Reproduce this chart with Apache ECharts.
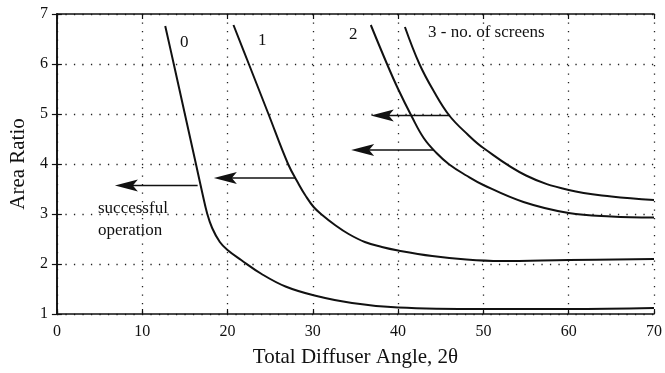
<!DOCTYPE html>
<html>
<head>
<meta charset="utf-8">
<script src="https://cdn.jsdelivr.net/npm/echarts@6/dist/echarts.min.js"></script>
<style>
  html, body { margin: 0; padding: 0; background: #fff; }
  #chart { width: 665px; height: 373px; }
</style>
</head>
<body>
<div id="chart"></div>
<script>
// Area ratio vs total diffuser angle, one curve per number of screens
const angle0 = [12.7, 13.7, 15.0, 16.3, 17.1, 17.6, 18.2, 19.1, 20.0, 21.6, 24.0, 26.8, 30.2, 34.6, 40, 50, 60, 70];
const ratio0 = [6.76, 6.0, 5.0, 4.0, 3.38, 3.02, 2.72, 2.44, 2.28, 2.08, 1.8, 1.55, 1.37, 1.22, 1.13, 1.1, 1.1, 1.12];

const angle1 = [20.7, 22.5, 24.8, 27.1, 28.4, 29.1, 30.1, 31.1, 32.6, 34.2, 36.1, 38.1, 40, 44, 48, 52, 60, 70];
const ratio1 = [6.78, 6.0, 5.0, 4.0, 3.58, 3.38, 3.14, 2.98, 2.78, 2.6, 2.44, 2.34, 2.27, 2.16, 2.09, 2.06, 2.08, 2.1];

const angle2 = [36.8, 38.7, 40.0, 41.6, 43.0, 44.5, 46.0, 48.0, 50.0, 54.7, 60, 65, 70];
const ratio2 = [6.78, 6.0, 5.5, 4.95, 4.52, 4.22, 3.99, 3.77, 3.58, 3.24, 3.02, 2.95, 2.93];

const angle3 = [40.8, 42.5, 44.2, 46.0, 48.1, 50, 55, 60, 65, 70];
const ratio3 = [6.74, 6.0, 5.45, 4.97, 4.6, 4.32, 3.77, 3.48, 3.35, 3.28];

// Arrows pointing toward the region of successful operation
const arrowRatio = [3.57, 3.72, 4.28, 4.97];
const arrowTail  = [16.5, 28.0, 44.2, 46.1];
const arrowTip   = [6.8, 18.4, 34.5, 36.8];

const xTicks = [0, 10, 20, 30, 40, 50, 60, 70];
const yTicks = [1, 2, 3, 4, 5, 6, 7];

const FONT = 'Liberation Serif';
const INK = '#111';

function pairs(xs, ys) { return xs.map((x, i) => [x, ys[i]]); }

function curve(xs, ys) {
  return {
    type: 'line',
    data: pairs(xs, ys),
    symbol: 'none',
    smooth: 0.4,
    lineStyle: { color: INK, width: 2 },
    silent: true,
    z: 5
  };
}

const dotted = { color: '#222', width: 1.3, type: [1.3, 7.2] };

const chart = echarts.init(document.getElementById('chart'), null, { renderer: 'canvas' });

chart.setOption({
  backgroundColor: '#fff',
  animation: false,
  grid: { left: 56, right: 10, top: 14, bottom: 55 },
  xAxis: [
    {
      type: 'value', min: xTicks[0], max: xTicks[xTicks.length - 1], interval: 10,
      position: 'bottom',
      axisLine: { show: true, lineStyle: { color: INK, width: 1.6 } },
      axisTick: { show: true, inside: true, length: 5, lineStyle: { color: INK, width: 1.2 } },
      axisLabel: { color: INK, fontFamily: FONT, fontSize: 16, margin: 10 },
      splitLine: { show: true, lineStyle: dotted },
      name: 'Total Diffuser Angle, 2\u03b8',
      nameLocation: 'middle',
      nameGap: 33,
      nameTextStyle: { color: INK, fontFamily: FONT, fontSize: 21 }
    },
    {
      type: 'value', min: xTicks[0], max: xTicks[xTicks.length - 1], interval: 10,
      position: 'top',
      axisLine: { show: true, lineStyle: { color: INK, width: 1.6 } },
      axisTick: { show: true, inside: true, length: 5, lineStyle: { color: INK, width: 1.2 } },
      axisLabel: { show: false },
      splitLine: { show: false }
    }
  ],
  yAxis: [
    {
      type: 'value', min: yTicks[0], max: yTicks[yTicks.length - 1], interval: 1,
      position: 'left',
      axisLine: { show: true, lineStyle: { color: INK, width: 1.6 } },
      axisTick: { show: true, inside: true, length: 5, lineStyle: { color: INK, width: 1.2 } },
      axisLabel: { color: INK, fontFamily: FONT, fontSize: 16, margin: 9 },
      splitLine: { show: true, lineStyle: dotted },
      name: 'Area Ratio',
      nameLocation: 'middle',
      nameGap: 25,
      nameTextStyle: { color: INK, fontFamily: FONT, fontSize: 21 }
    },
    {
      type: 'value', min: yTicks[0], max: yTicks[yTicks.length - 1], interval: 1,
      position: 'right',
      axisLine: { show: true, lineStyle: { color: INK, width: 1.6 } },
      axisTick: { show: true, inside: true, length: 5, lineStyle: { color: INK, width: 1.2 } },
      axisLabel: { show: false },
      splitLine: { show: false }
    }
  ],
  series: [
    curve(angle0, ratio0),
    curve(angle1, ratio1),
    curve(angle2, ratio2),
    curve(angle3, ratio3),
    {
      type: 'custom',
      silent: true,
      z: 6,
      data: arrowRatio.map((r, i) => [r, arrowTail[i], arrowTip[i]]),
      encode: { x: [1, 2], y: 0 },
      renderItem: function (params, api) {
        const tail = api.coord([api.value(1), api.value(0)]);
        const tip = api.coord([api.value(2), api.value(0)]);
        const L = 23, W = 6;
        const tx = tip[0], ty = tip[1];
        return {
          type: 'group',
          children: [
            {
              type: 'line',
              shape: { x1: tail[0], y1: tail[1], x2: tx + L * 0.7, y2: ty },
              style: { stroke: INK, lineWidth: 1.5 }
            },
            {
              type: 'polygon',
              shape: { points: [[tx, ty], [tx + L, ty - W], [tx + L * 0.78, ty], [tx + L, ty + W]] },
              style: { fill: INK }
            }
          ]
        };
      }
    }
  ],
  graphic: [
    { type: 'text', left: 180, top: 34, style: { text: '0', font: '17px "Liberation Serif"', fill: INK } },
    { type: 'text', left: 258, top: 32, style: { text: '1', font: '17px "Liberation Serif"', fill: INK } },
    { type: 'text', left: 349, top: 26, style: { text: '2', font: '17px "Liberation Serif"', fill: INK } },
    { type: 'text', left: 428, top: 24, style: { text: '3 - no. of screens', font: '17px "Liberation Serif"', fill: INK } },
    { type: 'text', left: 98, top: 200, style: { text: 'successful', font: '17px "Liberation Serif"', fill: INK } },
    { type: 'text', left: 98, top: 222, style: { text: 'operation', font: '17px "Liberation Serif"', fill: INK } }
  ]
});
</script>
</body>
</html>
